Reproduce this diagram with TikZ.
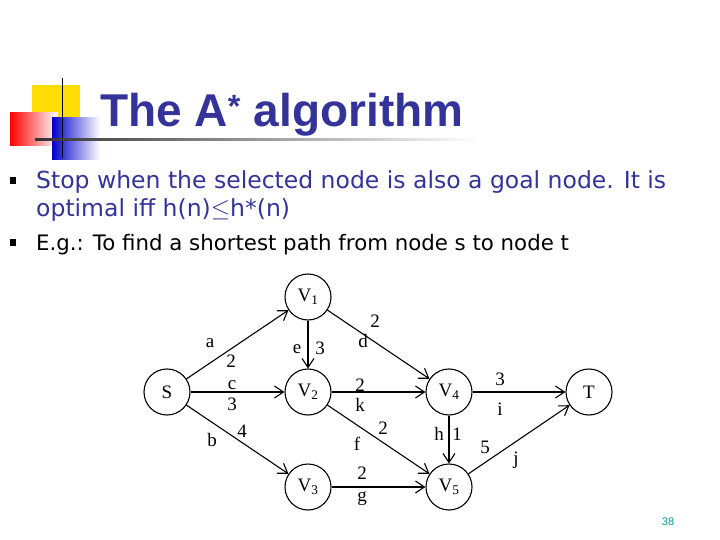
\documentclass[tikz,border=0pt]{standalone}
\usepackage{fontspec}
\setmainfont{Liberation Serif}
\newfontfamily\titlefont{Liberation Sans}
\newfontfamily\bodyfont{DejaVu Sans}
\usetikzlibrary{arrows.meta}
\definecolor{navy}{RGB}{51,51,153}
\definecolor{teal38}{RGB}{0,153,153}
\begin{document}
\begin{tikzpicture}[x=1pt,y=-1pt,
  vert/.style={circle,draw,line width=1.1pt,minimum size=46pt,inner sep=0pt,font=\fontsize{19}{19}\selectfont},
  edge/.style={draw,line width=1.1pt,-{Straight Barb[length=9pt,width=12pt]}},
  lab/.style={font=\fontsize{19}{19}\selectfont,inner sep=0pt}]
\useasboundingbox (0,0) rectangle (720,540);
% logo
\fill[yellow!80!orange] (32,85) rectangle (80,132);
\shade[left color=red, right color=white] (10,113) rectangle (58,146);
\shade[left color=blue!80!black, right color=white] (52,118) rectangle (100,160);
\draw[thick] (62,78) -- (62,158);
\shade[left color=black!80, right color=white] (35,139) rectangle (480,141);
\node[anchor=base west,inner sep=0pt,text=navy,font=\titlefont\bfseries\fontsize{46}{46}\selectfont] (title) at (100,127) {The A\textsuperscript{*} algorithm};
% bullets
\fill (10,177) rectangle (16,184) node[coordinate] (b1) {};
\fill (10,239) rectangle (16,246) node[coordinate] (b2) {};
\node[anchor=base west,inner sep=0pt,text=navy,font=\bodyfont\fontsize{23.5}{25}\selectfont] (t1) at (36,189) {Stop when the selected node is also a goal node. It is};
\node[anchor=base west,inner sep=0pt,text=navy,font=\bodyfont\fontsize{23.5}{25}\selectfont] (t1b) at (36,217) {optimal iff h(n)\(\leq\)h*(n)};
\node[anchor=base west,inner sep=0pt,font=\bodyfont\fontsize{21.3}{22}\selectfont] (t2) at (36,251) {E.g.: To find a shortest path from node s to node t};
% graph
\node[vert] (S) at (167,392) {S};
\node[vert] (V1) at (308,297) {V\textsubscript{1}};
\node[vert] (V2) at (308,392) {V\textsubscript{2}};
\node[vert] (V3) at (308,487) {V\textsubscript{3}};
\node[vert] (V4) at (449,392) {V\textsubscript{4}};
\node[vert] (V5) at (449,487) {V\textsubscript{5}};
\node[vert] (T) at (589,392) {T};
\draw[edge] (S) -- (V1);
\draw[edge] (S) -- (V2);
\draw[edge] (S) -- (V3);
\draw[edge] (V1) -- (V2);
\draw[edge] (V1) -- (V4);
\draw[edge] (V2) -- (V4);
\draw[edge] (V2) -- (V5);
\draw[edge] (V3) -- (V5);
\draw[edge] (V4) -- (V5);
\draw[edge] (V4) -- (T);
\draw[edge] (V5) -- (T);
\node[lab] (la) at (210,343) {a};
\node[lab] (l2a) at (231,361) {2};
\node[lab] (lc) at (232,385) {c};
\node[lab] (l3c) at (232,404) {3};
\node[lab] (lb) at (212,440) {b};
\node[lab] (l4b) at (242,431) {4};
\node[lab] (le) at (297,349) {e};
\node[lab] (l3e) at (320,348) {3};
\node[lab] (l2d) at (375,321) {2};
\node[lab] (ld) at (363,341) {d};
\node[lab] (l2k) at (360,385) {2};
\node[lab] (lk) at (360,405) {k};
\node[lab] (l2f) at (383,428) {2};
\node[lab] (lf) at (357,444) {f};
\node[lab] (l2g) at (362,473) {2};
\node[lab] (lg) at (362,499) {g};
\node[lab] (lh) at (439,434) {h};
\node[lab] (l1h) at (457,434) {1};
\node[lab] (l3i) at (500,379) {3};
\node[lab] (li) at (500,409) {i};
\node[lab] (l5j) at (485,447) {5};
\node[lab] (lj) at (516,460) {j};
\node[text=teal38,font=\titlefont\fontsize{11}{11}\selectfont] (pg) at (668,522) {38};
\end{tikzpicture}
\end{document}
